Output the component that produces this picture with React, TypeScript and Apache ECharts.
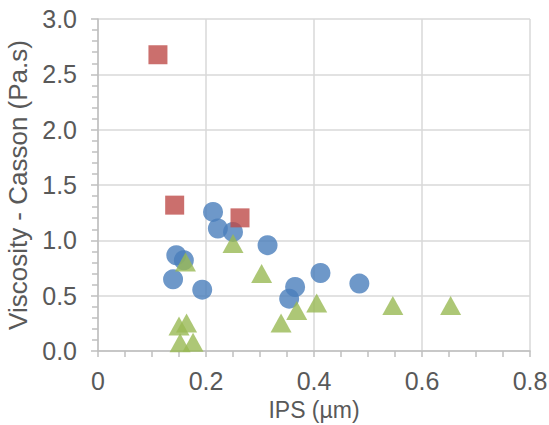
import React, { useEffect, useRef } from "react";
import * as echarts from "echarts";

const blueSeries: number[][] = [
  [0.145, 0.865], [0.159, 0.82], [0.139, 0.648], [0.193, 0.554],
  [0.213, 1.257], [0.222, 1.107], [0.250, 1.076], [0.314, 0.956],
  [0.365, 0.578], [0.354, 0.473], [0.412, 0.705], [0.484, 0.609],
];
const redSeries: number[][] = [
  [0.111, 2.677], [0.142, 1.318], [0.263, 1.203],
];
const greenSeries: number[][] = [
  [0.250, 0.971], [0.303, 0.70], [0.339, 0.252], [0.368, 0.367],
  [0.405, 0.433], [0.546, 0.412], [0.653, 0.412], [0.162, 0.804],
  [0.150, 0.225], [0.164, 0.254], [0.152, 0.074], [0.176, 0.08],
];

const xName = "IPS (µm)";
const yName = "Viscosity - Casson (Pa.s)";
const FONT = "'Liberation Sans', Arial, sans-serif";

export default function App() {
  const ref = useRef<HTMLDivElement>(null);
  useEffect(() => {
    if (!ref.current) return;
    const chart = echarts.init(ref.current, null, { renderer: "svg" });
    const axisLineColor = "#bfbfbf";
    chart.setOption({
      animation: false,
      backgroundColor: "#ffffff",
      grid: {
        left: 98, top: 19, right: 19, bottom: 74,
        containLabel: false, outerBoundsMode: "none",
      },
      xAxis: {
        type: "value",
        min: 0,
        max: 0.8,
        interval: 0.2,
        name: xName,
        nameLocation: "middle",
        nameGap: 47,
        nameTextStyle: { fontSize: 23, color: "#595959", fontFamily: FONT },
        axisLine: { show: true, lineStyle: { color: axisLineColor, width: 1.5 } },
        axisTick: { show: true, inside: false, length: 6, lineStyle: { color: axisLineColor, width: 1.5 } },
        minorTick: { show: true, splitNumber: 4, length: 6, lineStyle: { color: axisLineColor, width: 1.5 } },
        splitLine: { show: true, lineStyle: { color: "#d9d9d9", width: 1.5 } },
        axisLabel: { fontSize: 25, color: "#595959", fontFamily: FONT, margin: 17 },
      },
      yAxis: {
        type: "value",
        min: 0,
        max: 3,
        interval: 0.5,
        name: yName,
        nameLocation: "middle",
        nameGap: 65,
        nameTextStyle: { fontSize: 26, color: "#595959", fontFamily: FONT },
        axisLine: { show: true, lineStyle: { color: axisLineColor, width: 1.5 } },
        axisTick: { show: true, inside: false, length: 7, lineStyle: { color: axisLineColor, width: 1.5 } },
        minorTick: { show: true, splitNumber: 5, length: 6, lineStyle: { color: axisLineColor, width: 1.5 } },
        splitLine: { show: true, lineStyle: { color: "#d9d9d9", width: 1.5 } },
        axisLabel: {
          fontSize: 25, color: "#595959", fontFamily: FONT, margin: 21,
          formatter: (v: number) => v.toFixed(1),
        },
      },
      series: [
        {
          type: "scatter", data: blueSeries, symbol: "circle", symbolSize: 20,
          itemStyle: { color: "#4a7ebb" },
        },
        {
          type: "scatter", data: redSeries, symbol: "rect", symbolSize: 19,
          itemStyle: { color: "#be4b48" },
        },
        {
          type: "scatter", data: greenSeries, symbol: "triangle", symbolSize: [21, 19],
          itemStyle: { color: "#98b954" },
        },
      ],
    });
    return () => chart.dispose();
  }, []);
  return (
    <div
      ref={ref}
      style={{ position: "fixed", left: 0, top: 0, width: 549, height: 425 }}
    />
  );
}
